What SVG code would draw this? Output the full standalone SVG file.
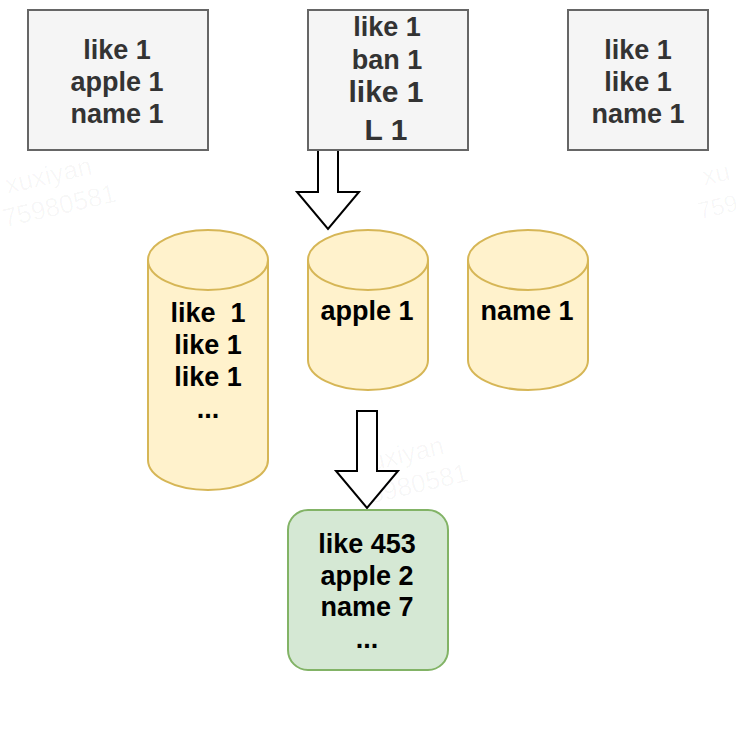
<svg xmlns="http://www.w3.org/2000/svg" width="740" height="730" viewBox="0 0 740 730">
<style>
.box{fill:#f5f5f5;stroke:#666666;stroke-width:2}
.cyl{fill:#fff2cc;stroke:#d6b656;stroke-width:2}
.res{fill:#d5e8d4;stroke:#82b366;stroke-width:2}
.arr{fill:#ffffff;stroke:#000000;stroke-width:2;stroke-linejoin:miter}
text{font-family:"Liberation Sans",Arial,Helvetica,sans-serif;font-weight:bold;text-anchor:middle;white-space:pre}
.g{fill:#333333;font-size:27px}
.k{fill:#000000;font-size:27px}
.wm{fill:#000000;fill-opacity:0.035;font-weight:normal;font-size:26px;text-anchor:start}
</style>
<rect width="740" height="730" fill="#ffffff"/>
<g id="watermarks">
<g transform="rotate(-13 60 190)"><text class="wm" x="8" y="182">xuxiyan</text><text class="wm" x="-2" y="214">75980581</text></g>
<g transform="rotate(-13 720 190)"><text class="wm" x="706" y="182">xu</text><text class="wm" x="694" y="214" style="font-size:24px">759</text></g>
<g transform="rotate(-13 410 470)"><text class="wm" x="360" y="462">xuxiyan</text><text class="wm" x="350" y="494">75980581</text></g>
</g>
<g id="connectors">
<path class="arr" d="M318 150 L338 150 L338 192 L359 192 L328 229 L297 192 L318 192 Z"/>
<path class="arr" d="M357 411 L377 411 L377 471 L398 471 L367 508 L336 471 L357 471 Z"/>
</g>
<g id="box1">
<rect class="box" x="28" y="10" width="180" height="140"/>
<text class="g" x="117" y="59">like 1</text>
<text class="g" x="117" y="91">apple 1</text>
<text class="g" x="117" y="123">name 1</text>
</g>
<g id="box2">
<rect class="box" x="308" y="10" width="160" height="140"/>
<text class="g" x="387" y="36">like 1</text>
<text class="g" x="387" y="69">ban 1</text>
<text class="g" x="386" y="102" style="font-size:30px">like 1</text>
<text class="g" x="386" y="140" style="font-size:30px">L 1</text>
</g>
<g id="box3">
<rect class="box" x="568" y="10" width="140" height="140"/>
<text class="g" x="638" y="59">like 1</text>
<text class="g" x="638" y="91">like 1</text>
<text class="g" x="638" y="123">name 1</text>
</g>
<g id="cyl1">
<path class="cyl" d="M148 260 A60 30 0 0 1 268 260 L268 460 A60 30 0 0 1 148 460 Z"/>
<path class="cyl" d="M148 260 A60 30 0 0 0 268 260" fill="none"/>
<text class="k" x="208" y="322">like  1</text>
<text class="k" x="208" y="354">like 1</text>
<text class="k" x="208" y="386">like 1</text>
<text class="k" x="208" y="418">...</text>
</g>
<g id="cyl2">
<path class="cyl" d="M308 260 A60 30 0 0 1 428 260 L428 360 A60 30 0 0 1 308 360 Z"/>
<path class="cyl" d="M308 260 A60 30 0 0 0 428 260" fill="none"/>
<text class="k" x="367" y="320">apple 1</text>
</g>
<g id="cyl3">
<path class="cyl" d="M468 260 A60 30 0 0 1 588 260 L588 360 A60 30 0 0 1 468 360 Z"/>
<path class="cyl" d="M468 260 A60 30 0 0 0 588 260" fill="none"/>
<text class="k" x="527" y="320">name 1</text>
</g>
<g id="result">
<rect class="res" x="288" y="510" width="160" height="160" rx="20" ry="20"/>
<text class="k" x="367" y="553">like 453</text>
<text class="k" x="367" y="585">apple 2</text>
<text class="k" x="367" y="616">name 7</text>
<text class="k" x="367" y="648">...</text>
</g>
</svg>
